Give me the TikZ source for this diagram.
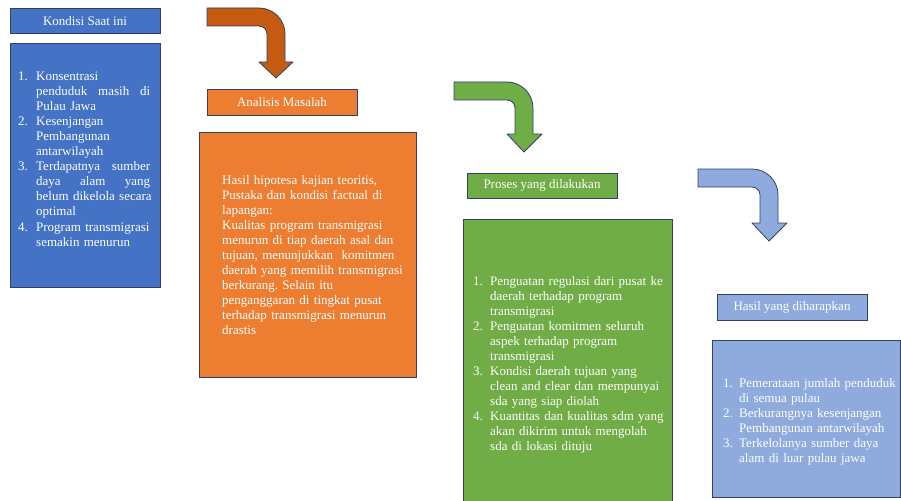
\documentclass[tikz,border=0pt]{standalone}
\usepackage{fontspec}
\setmainfont{Liberation Serif}
\definecolor{cblue}{HTML}{4472C4}
\definecolor{corange}{HTML}{ED7D31}
\definecolor{cgreen}{HTML}{70AD47}
\definecolor{clight}{HTML}{8FAADC}
\definecolor{cdark}{HTML}{C55A11}
\definecolor{cline}{HTML}{2F4266}
\newcommand\itm[3]{\hangindent=#1\hangafter=1\noindent\makebox[#1][l]{#2}#3\par}
\newcommand\jline[1]{\hbox to 114pt{#1}}
\frenchspacing
\begin{document}
\begin{tikzpicture}[x=1pt,y=-1pt,
  every node/.style={font=\fontsize{13}{15}\selectfont, text=white},
  panel/.style={draw=cline, line width=0.8pt, inner sep=0pt},
  bentarrow/.style={draw=cline, line width=0.8pt, line join=round},
  txt/.style={anchor=base west, inner sep=0pt, execute at begin node={\hyphenpenalty=10000\exhyphenpenalty=10000\tolerance=10000\frenchspacing}}]
\useasboundingbox (0,0) rectangle (901,500);
\clip (0,0) rectangle (901,500);

% bent arrows
\draw[bentarrow, fill=cdark] (207,8) -- (259,8) .. controls (273.36,8) and (285,19.64) .. (285,34)
  -- (285,62) -- (293,62) -- (276,78) -- (259,62) -- (267,62) -- (267,34)
  .. controls (267,29.58) and (263.42,26) .. (259,26) -- (207,26) -- cycle;
\draw[bentarrow, fill=cgreen] (454,82) -- (507,82) .. controls (521.36,82) and (533,93.64) .. (533,108)
  -- (533,134) -- (542,134) -- (524,152) -- (507,134) -- (515,134) -- (515,108)
  .. controls (515,103.58) and (511.42,100) .. (507,100) -- (454,100) -- cycle;
\draw[bentarrow, fill=clight] (698,169) -- (752,169) .. controls (766.36,169) and (778,180.64) .. (778,195)
  -- (778,223) -- (787,223) -- (769,241) -- (752,223) -- (760,223) -- (760,195)
  .. controls (760,190.58) and (756.42,187) .. (752,187) -- (698,187) -- cycle;

% titles
\node[panel, fill=cblue, minimum width=150pt, minimum height=25pt] (t1) at (85,20.75) {Kondisi Saat ini};
\node[panel, fill=corange, minimum width=150pt, minimum height=26pt] (t2) at (282,102) {Analisis Masalah};
\node[panel, fill=cgreen, minimum width=150pt, minimum height=25pt] (t3) at (542,185.5) {Proses yang dilakukan};
\node[panel, fill=clight, minimum width=150pt, minimum height=26pt] (t4) at (792,307) {Hasil yang diharapkan};

% bodies
\node[panel, fill=cblue, minimum width=150pt, minimum height=244pt] (b1) at (85,165) {};
\node[panel, fill=corange, minimum width=217pt, minimum height=245pt] (b2) at (307.5,254.5) {};
\node[panel, fill=cgreen, minimum width=209pt, minimum height=293pt] (b3) at (567.5,365.5) {};
\node[panel, fill=clight, minimum width=188.5pt, minimum height=157pt] (b4) at (806.25,418.5) {};

% texts
\node[txt, text width=140pt] (x1) at (18,81) {%
\itm{18pt}{1.}{Konsentrasi\newline \jline{penduduk\hfill masih\hfill di}\newline Pulau Jawa}%
\itm{18pt}{2.}{Kesenjangan\newline Pembangunan\newline antarwilayah}%
\itm{18pt}{3.}{\jline{Terdapatnya\hfill sumber}\newline \jline{daya\hfill alam\hfill yang}\newline belum dikelola secara\newline optimal}%
\itm{18pt}{4.}{Program transmigrasi\newline semakin menurun}};

\node[txt, text width=195pt] (x2) at (222,184) {Hasil hipotesa kajian teoritis,\newline
Pustaka dan kondisi factual di\newline
lapangan:\newline
Kualitas program transmigrasi\newline
menurun di tiap daerah asal dan\newline
tujuan, menunjukkan~ komitmen\newline
daerah yang memilih transmigrasi\newline
berkurang. Selain itu\newline
penganggaran di tingkat pusat\newline
terhadap transmigrasi menurun\newline
drastis};

\node[txt, text width=195pt] (x3) at (473,285) {%
\itm{17pt}{1.}{Penguatan regulasi dari pusat ke\newline daerah terhadap program\newline transmigrasi}%
\itm{17pt}{2.}{Penguatan komitmen seluruh\newline aspek terhadap program\newline transmigrasi}%
\itm{17pt}{3.}{Kondisi daerah tujuan yang\newline clean and clear dan mempunyai\newline sda yang siap diolah}%
\itm{17pt}{4.}{Kuantitas dan kualitas sdm yang\newline akan dikirim untuk mengolah\newline sda di lokasi dituju}};

\node[txt, text width=176pt] (x4) at (723,387) {%
\itm{16pt}{1.}{Pemerataan jumlah penduduk\newline di semua pulau}%
\itm{16pt}{2.}{Berkurangnya kesenjangan\newline Pembangunan antarwilayah}%
\itm{16pt}{3.}{Terkelolanya sumber daya\newline alam di luar pulau jawa}};
\end{tikzpicture}
\end{document}
